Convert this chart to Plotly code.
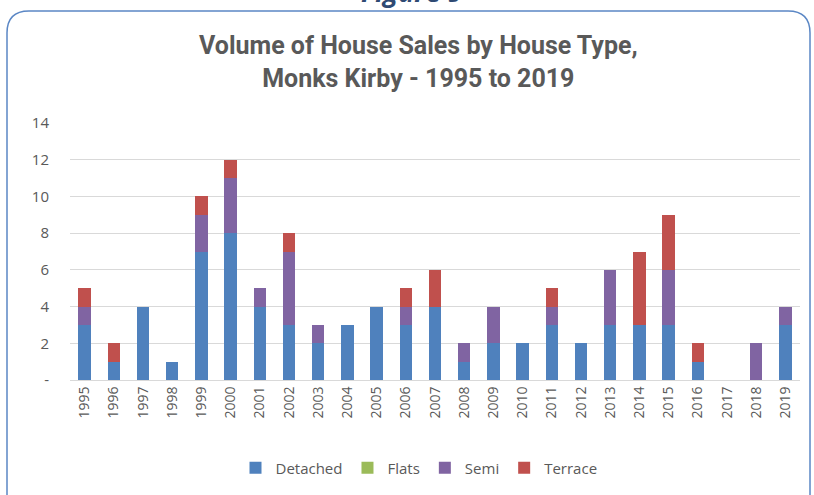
import plotly.graph_objects as go

years = [str(y) for y in range(1995, 2020)]
detached = [3, 1, 4, 1, 7, 8, 4, 3, 2, 3, 4, 3, 4, 1, 2, 2, 3, 2, 3, 3, 3, 1, 0, 0, 3]
flats = [0] * 25
semi = [1, 0, 0, 0, 2, 3, 1, 4, 1, 0, 0, 1, 0, 1, 2, 0, 1, 0, 3, 0, 3, 0, 0, 2, 1]
terrace = [1, 1, 0, 0, 1, 1, 0, 1, 0, 0, 0, 1, 2, 0, 0, 0, 1, 0, 0, 4, 3, 1, 0, 0, 0]

y_ticks = [0, 2, 4, 6, 8, 10, 12, 14]
y_tick_text = ["-", "2", "4", "6", "8", "10", "12", "14"]

W, H = 814, 495
L, R, T, B = 70, 14, 123, 115
PW, PH = W - L - R, H - T - B


def px(x):
    # pixel -> paper coordinate
    return (x - L) / PW


def py(y):
    return (H - B - y) / PH


fig = go.Figure()
for name, vals, col in [
    ("Detached", detached, "#4F81BD"),
    ("Flats", flats, "#9BBB59"),
    ("Semi", semi, "#8064A2"),
    ("Terrace", terrace, "#C0504D"),
]:
    fig.add_trace(go.Bar(x=years, y=vals, name=name, marker_color=col,
                         marker_line_width=0))

# rounded border of the chart box
bl, bt, br, bb, r = 7, 11, 810, 520, 22
path = (f"M {px(bl)},{py(bb)} L {px(bl)},{py(bt + r)} "
        f"Q {px(bl)},{py(bt)} {px(bl + r)},{py(bt)} "
        f"L {px(br - r)},{py(bt)} Q {px(br)},{py(bt)} {px(br)},{py(bt + r)} "
        f"L {px(br)},{py(bb)}")
fig.add_shape(type="path", path=path, xref="paper", yref="paper",
              line=dict(color="#5B87C5", width=1.5))

fig.add_annotation(text="<b><i>Figure 9</i></b>", x=px(412), y=py(12),
                   xref="paper", yref="paper", xanchor="center", yanchor="bottom",
                   showarrow=False, font=dict(family="Open Sans", size=27, color="#2F4A73"))
fig.add_annotation(text="<b>Volume of House Sales by House Type,<br>Monks Kirby - 1995 to 2019</b>",
                   x=px(418), y=py(62), xref="paper", yref="paper",
                   xanchor="center", yanchor="middle", showarrow=False,
                   font=dict(family="Roboto", size=25, color="#595959"))

fig.update_layout(
    barmode="stack",
    bargap=0.58,
    width=W, height=H,
    margin=dict(l=L, r=R, t=T, b=B, autoexpand=False),
    paper_bgcolor="white", plot_bgcolor="white",
    font=dict(family="Open Sans", size=14, color="#595959"),
    legend=dict(orientation="h", x=px(419), xanchor="center", y=py(468), yanchor="middle",
                font=dict(size=15, color="#595959"), itemwidth=30, traceorder="normal"),
    showlegend=True,
)
fig.update_xaxes(tickangle=-90, showline=True, linecolor="#D9D9D9", linewidth=1,
                 ticks="", tickfont=dict(size=14), automargin=False)
fig.update_yaxes(range=[0, 14], tickvals=y_ticks, ticktext=y_tick_text,
                 gridcolor="#D9D9D9", gridwidth=1, zeroline=False, showline=False,
                 ticks="", tickfont=dict(size=15), ticklabelstandoff=20, automargin=False)

fig.write_html("out.html", config={"displayModeBar": False},
               post_script="document.body.style.margin = '0';")
